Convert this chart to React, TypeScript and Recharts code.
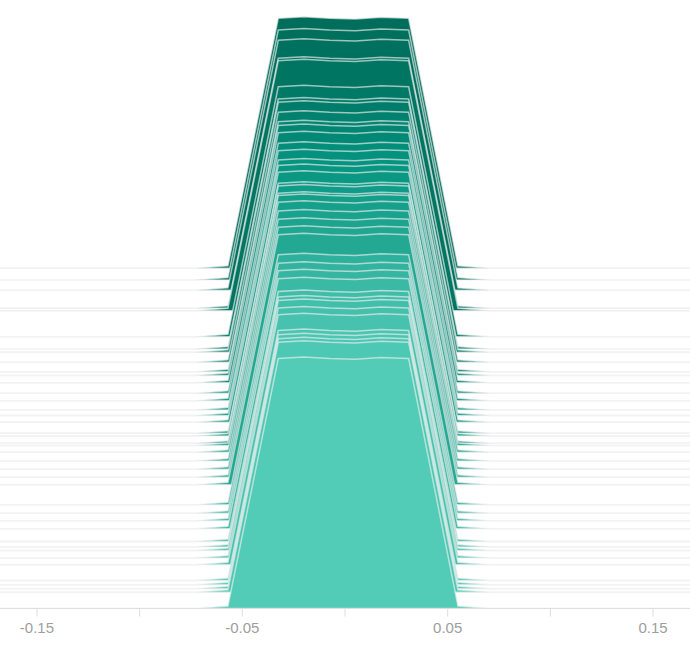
import React from 'react';
import { ComposedChart, Area, XAxis, YAxis } from 'recharts';

// sample points along the x axis (shared by every ridge)
const xValues = [-0.168, -0.073, -0.057, -0.0325, -0.02, -0.0075, 0.005, 0.0175, 0.031, 0.055, 0.071, 0.168];
// relative density at each sample point
const profile = [0, 0, 0.01, 1.0, 1.006, 1.0, 0.997, 1.004, 1.0, 0.01, 0, 0];

// level (vertical offset) of each ridge, back to front
const rowLevels = [
    1.361, 1.314, 1.273, 1.201, 1.191, 1.087, 1.038, 1.025, 0.985, 0.947,
    0.932, 0.903, 0.861, 0.831, 0.794, 0.772, 0.745, 0.701, 0.69, 0.661,
    0.652, 0.625, 0.59, 0.557, 0.525, 0.495, 0.415, 0.381, 0.351, 0.319,
    0.268, 0.246, 0.232, 0.202, 0.175, 0.112, 0.095, 0.079, 0.065, 0,
];

const xTicks = [-0.15, -0.1, -0.05, 0, 0.05, 0.1, 0.15];
const labelledTicks = ['-0.15', '-0.05', '0.05', '0.15'];

const data = xValues.map((x, i) => ({ x, v: profile[i] }));

const colorStops: [number, number[]][] = [
    [0, [82, 203, 183]],
    [0.3, [61, 187, 167]],
    [0.5, [34, 168, 147]],
    [0.8, [4, 148, 128]],
    [1.05, [0, 122, 103]],
    [1.36, [0, 110, 91]],
];

const colorFor = (level: number) => {
    for (let i = 1; i < colorStops.length; i++) {
        const [l1, c1] = colorStops[i];
        const [l0, c0] = colorStops[i - 1];
        if (level <= l1 || i === colorStops.length - 1) {
            const t = Math.min(1, Math.max(0, (level - l0) / (l1 - l0)));
            const c = c0.map((v, k) => Math.round(v + (c1[k] - v) * t));
            return `rgb(${c[0]},${c[1]},${c[2]})`;
        }
    }
    return 'rgb(82,203,183)';
};

const fmt = (v: number) => {
    const s = String(Math.round(v * 100) / 100);
    return labelledTicks.includes(s) ? s : '';
};

const App: React.FC = () => {
    return (
        <div style={{ position: 'absolute', left: 0, top: 0, width: 690, height: 654, background: '#fff' }}>
            <ComposedChart width={690} height={654} data={data} margin={{ top: 8.5, right: 0, bottom: 0, left: 0 }}>
                <XAxis
                    type="number"
                    dataKey="x"
                    domain={[-0.168, 0.168]}
                    ticks={xTicks}
                    tickFormatter={fmt}
                    height={45.5}
                    tickSize={8}
                    tickMargin={6}
                    stroke="#dedede"
                    tick={{ fill: '#9e9e9e', fontSize: 15, fontFamily: 'Liberation Sans, Arial, sans-serif' }}
                    allowDataOverflow
                />
                <YAxis hide type="number" domain={[0, 2.4]} allowDataOverflow />
                {rowLevels.map((lvl, i) => (
                    <Area
                        key={`ridge-${i}`}
                        type="linear"
                        dataKey={(d: { v: number }) => [lvl, lvl + d.v]}
                        fill={colorFor(lvl)}
                        fillOpacity={1}
                        stroke="#f0f0f0"
                        strokeOpacity={0.65}
                        strokeWidth={1.5}
                        isAnimationActive={false}
                        activeDot={false}
                        dot={false}
                    />
                ))}
            </ComposedChart>
        </div>
    );
};

export default App;
